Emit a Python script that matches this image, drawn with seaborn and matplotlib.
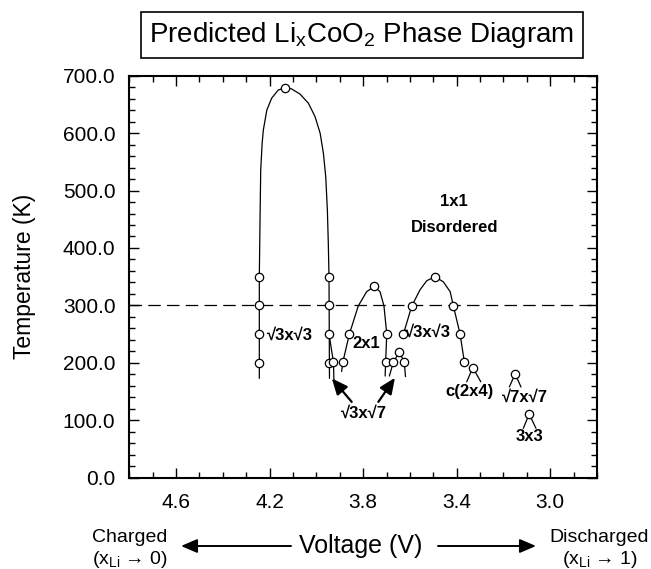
import matplotlib
matplotlib.use('Agg')
import matplotlib.pyplot as plt
import seaborn as sns
from matplotlib.ticker import MultipleLocator, FixedLocator, FormatStrFormatter

sns.set_theme(style='ticks')
plt.rcParams['font.family'] = ['Liberation Sans', 'DejaVu Sans']
plt.rcParams['mathtext.default'] = 'regular'
plt.rcParams['lines.scale_dashes'] = False
for key in ['text.color', 'axes.labelcolor', 'xtick.color', 'ytick.color', 'axes.edgecolor']:
    plt.rcParams[key] = 'black'

# ---------------- data ----------------
# sqrt3 x sqrt3 dome near 4.1 V (x ~ 0.5)
dome1_V = [4.244, 4.244, 4.241, 4.238, 4.232, 4.227, 4.212, 4.191, 4.163, 4.134,
           4.106, 4.070, 4.034, 4.006, 3.984, 3.970, 3.960, 3.953, 3.949, 3.946, 3.944]
dome1_T = [173, 350, 449, 536, 582, 605, 640, 661, 675, 679,
           677, 668, 652, 629, 600, 565, 524, 466, 408, 350, 173]
# second boundary of the sqrt3 x sqrt7 sliver
s37_V = [3.945, 3.927, 3.925]
s37_T = [248, 201, 170]
# 2x1 dome
dome2_V = [3.892, 3.887, 3.859, 3.821, 3.785, 3.753, 3.728, 3.711, 3.699, 3.704, 3.706]
dome2_T = [185, 201, 250, 299, 324, 333, 324, 299, 250, 201, 177]
# small sqrt3 x sqrt7 cap near 3.65 V
cap_V = [3.688, 3.671, 3.645, 3.624, 3.619]
cap_T = [177, 201, 219, 201, 176]
# second sqrt3 x sqrt3 dome
dome3_V = [3.628, 3.592, 3.557, 3.528, 3.4925, 3.457, 3.428, 3.414, 3.3855, 3.367]
dome3_T = [250, 299, 327, 343, 350, 341, 324, 299, 250, 201]
# small ordered phases (apex + two legs)
c24_V = [3.357, 3.331, 3.297]
c24_T = [167, 191.6, 167]
s77_V = [3.175, 3.150, 3.125]
s77_T = [158, 180.6, 158]
t33_V = [3.115, 3.090, 3.061]
t33_T = [86, 111, 86]

# computed points (open circles)
pts_V = [4.244, 4.244, 4.244, 4.244, 4.134, 3.947, 3.947, 3.947, 3.947, 3.927,
         3.887, 3.859, 3.753, 3.699, 3.704, 3.671, 3.645, 3.624,
         3.628, 3.592, 3.4925, 3.414, 3.3855, 3.367, 3.331, 3.150, 3.090]
pts_T = [350, 300, 250, 200, 679, 350, 300, 250, 200, 201,
         201, 250, 333, 250, 201, 201, 219, 201,
         250, 299, 350, 299, 250, 201, 191.6, 180.6, 111]

room_T = 300

phase_names = ['\u221a3x\u221a3', '2x1', '\u221a3x\u221a3', 'c(2x4)', '\u221a7x\u221a7', '3x3',
               '\u221a3x\u221a7', '1x1', 'Disordered']
phase_V = [4.212, 3.786, 3.522, 3.344, 3.1075, 3.087, 3.795, 3.410, 3.407]
phase_T = [248, 234, 254, 150, 140, 71, 112, 481, 435]
phase_ha = ['left', 'center', 'center', 'center', 'center', 'center', 'center', 'center', 'center']

arrow_tip_V = [3.934, 3.664]
arrow_tip_T = [173, 174]
arrow_tail_V = [3.849, 3.735]
arrow_tail_T = [132, 132]

x_ticks = [4.6, 4.2, 3.8, 3.4, 3.0]
y_ticks = [0, 100, 200, 300, 400, 500, 600, 700]

# ---------------- figure ----------------
W, H = 651, 569
fig = plt.figure(figsize=(W / 100, H / 100), dpi=100)
ax = fig.add_axes([129.3 / W, 1 - 477.7 / H, (597 - 129.3) / W, (477.7 - 75.7) / H])

ax.axhline(room_T, color='black', lw=0.9, ls=(0, (9, 4.5)), zorder=1)

for xs, ys in [(dome1_V, dome1_T), (s37_V, s37_T), (dome2_V, dome2_T), (cap_V, cap_T),
               (dome3_V, dome3_T), (c24_V, c24_T), (s77_V, s77_T), (t33_V, t33_T)]:
    sns.lineplot(x=xs, y=ys, sort=False, estimator=None, color='black', lw=0.9, ax=ax, zorder=2)

sns.scatterplot(x=pts_V, y=pts_T, marker='o', s=36, facecolor='white', edgecolor='black',
                linewidth=0.9, zorder=5, ax=ax)

for name, v, t, ha in zip(phase_names, phase_V, phase_T, phase_ha):
    ax.text(v, t, name, ha=ha, va='center', fontsize=12, fontweight='bold', zorder=6)

for tv, tt, sv, st in zip(arrow_tip_V, arrow_tip_T, arrow_tail_V, arrow_tail_T):
    ax.annotate('', xy=(tv, tt), xytext=(sv, st),
                arrowprops=dict(arrowstyle='-|>,head_length=0.8,head_width=0.35',
                                color='black', lw=1.6, shrinkA=0, shrinkB=0))

ax.set_xlim(4.8, 2.8)
ax.set_ylim(0, 700)
ax.xaxis.set_major_locator(FixedLocator(x_ticks))
ax.xaxis.set_major_formatter(FormatStrFormatter('%.1f'))
ax.xaxis.set_minor_locator(MultipleLocator(0.1))
ax.yaxis.set_major_locator(FixedLocator(y_ticks))
ax.yaxis.set_major_formatter(FormatStrFormatter('%.1f'))
ax.yaxis.set_minor_locator(MultipleLocator(20))
ax.tick_params(which='both', direction='in', top=True, right=True, width=1.0, color='black',
               labelcolor='black')
ax.tick_params(which='major', length=7, labelsize=15, pad=10)
ax.tick_params(axis='x', which='major', pad=11)
ax.tick_params(which='minor', length=4)
for s in ax.spines.values():
    s.set_linewidth(1.5)
    s.set_color('black')
ax.set_xlabel('')
ax.set_ylabel('Temperature (K)', fontsize=16.5, color='black')
ax.yaxis.set_label_coords((36 - 129.3) / 467.7, 0.5)

# title box
fig.text(362 / W, 1 - 34.7 / H, 'Predicted Li$_\\mathregular{x}$CoO$_\\mathregular{2}$ Phase Diagram',
         ha='center', va='center', fontsize=20,
         bbox=dict(boxstyle='square,pad=0.29', fc='white', ec='black', lw=1.2))

# bottom axis annotation
fig.text(361 / W, 1 - 546 / H, 'Voltage (V)', ha='center', va='center', fontsize=18)
fig.text(130 / W, 1 - 537 / H, 'Charged', ha='center', va='center', fontsize=14)
fig.text(130 / W, 1 - 560 / H, '(x$_\\mathregular{Li}$ \u2192 0)', ha='center', va='center', fontsize=14)
fig.text(599 / W, 1 - 537 / H, 'Discharged', ha='center', va='center', fontsize=14)
fig.text(600 / W, 1 - 560 / H, '(x$_\\mathregular{Li}$ \u2192 1)', ha='center', va='center', fontsize=14)
for x0, x1 in [(291, 181), (438, 536)]:
    fig.add_artist(matplotlib.patches.FancyArrowPatch(
        (x0 / W, 1 - 546 / H), (x1 / W, 1 - 546 / H), transform=fig.transFigure,
        arrowstyle='-|>,head_length=0.7,head_width=0.3', color='black', lw=1.4,
        mutation_scale=14, shrinkA=0, shrinkB=0))

fig.savefig('out.png', dpi=100)
